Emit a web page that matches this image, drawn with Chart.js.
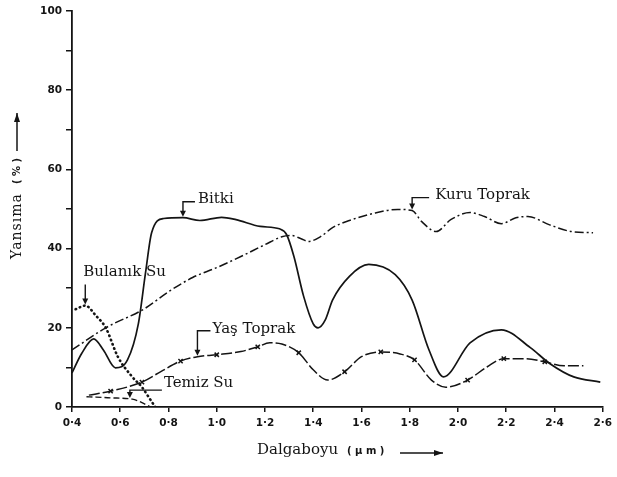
<!DOCTYPE html>
<html>
<head>
<meta charset="utf-8">
<script src="https://cdn.jsdelivr.net/npm/chart.js@4"></script>
<style>
  html, body { margin: 0; padding: 0; background: #fff; }
  #c { display: block; }
</style>
</head>
<body>
<canvas id="c" width="617" height="477"></canvas>
<script>
// Spectral reflectance curves (wavelength in µm, reflectance in %)
const bitkiWl  = [0.40, 0.44, 0.49, 0.53, 0.58, 0.63, 0.675, 0.705, 0.73, 0.78, 0.86, 0.93, 1.02, 1.08, 1.18, 1.26, 1.29, 1.32, 1.36, 1.40, 1.42, 1.45, 1.48, 1.55, 1.63, 1.74, 1.81, 1.88, 1.94, 2.05, 2.18, 2.30, 2.38, 2.48, 2.59];
const bitkiVal = [8.6, 13.5, 17.2, 14.4, 9.9, 11.9, 21, 34, 44, 47.6, 47.8, 47.1, 47.9, 47.3, 45.6, 45, 43.5, 38, 28, 21, 20, 22, 27, 33, 36, 33.4, 27, 14.4, 7.6, 16.2, 19.5, 15, 11, 7.6, 6.3];

const kuruWl  = [0.40, 0.54, 0.70, 0.80, 0.90, 1.00, 1.10, 1.20, 1.27, 1.31, 1.35, 1.38, 1.43, 1.48, 1.55, 1.65, 1.75, 1.81, 1.85, 1.91, 1.97, 2.05, 2.11, 2.18, 2.24, 2.29, 2.38, 2.47, 2.56];
const kuruVal = [14.4, 20, 24.8, 29.1, 32.7, 35.2, 38, 41, 43, 43.3, 42.5, 41.8, 43, 45.3, 47.1, 48.9, 49.9, 49.6, 46.8, 44.3, 47.3, 49.1, 48.1, 46.3, 47.8, 48.1, 46, 44.3, 44];

const yasWl  = [0.47, 0.56, 0.69, 0.77, 0.85, 0.92, 1.00, 1.10, 1.17, 1.22, 1.27, 1.34, 1.40, 1.46, 1.53, 1.60, 1.68, 1.76, 1.82, 1.89, 1.95, 2.04, 2.12, 2.19, 2.28, 2.36, 2.44, 2.52];
const yasVal = [3.0, 4.0, 6.3, 9.0, 11.6, 12.7, 13.2, 14.0, 15.2, 16.2, 15.9, 13.7, 9.4, 6.8, 8.9, 12.7, 13.9, 13.4, 11.9, 6.8, 5.0, 6.8, 10.1, 12.2, 12.2, 11.4, 10.4, 10.4];
const yasMarkWl = [0.56, 0.69, 0.85, 1.00, 1.17, 1.34, 1.53, 1.68, 1.82, 2.04, 2.19, 2.36];

const temizWl  = [0.46, 0.50, 0.56, 0.65, 0.69, 0.725];
const temizVal = [2.6, 2.5, 2.3, 2.0, 1.1, 0];

const bulanikWl  = [0.415, 0.455, 0.50, 0.54, 0.59, 0.65, 0.69, 0.72, 0.745];
const bulanikVal = [24.7, 25.6, 23, 20, 12.7, 7.6, 5.0, 2.3, 0];

const xTicks = [0.4, 0.6, 0.8, 1.0, 1.2, 1.4, 1.6, 1.8, 2.0, 2.2, 2.4, 2.6];
const yLabelled = [0, 20, 40, 60, 80, 100];

const pts = (xs, ys) => xs.map((x, i) => ({ x, y: ys[i] }));
const INK = '#141414';

const base = {
  fill: false, pointRadius: 0, borderColor: INK, borderWidth: 1.6,
  cubicInterpolationMode: 'monotone', borderCapStyle: 'butt'
};

// Curve name labels with bent leader arrows
const notes = [
  { text: 'Bitki',       at: [0.86, 47.8],  rise: 15, run: 12, dx: 3,  dy: -3 },
  { text: 'Kuru Toprak', at: [1.81, 49.6],  rise: 12, run: 17, dx: 6,  dy: -2 },
  { text: 'Yaş Toprak',  at: [0.92, 12.7],  rise: 25, run: 13, dx: 2,  dy: -2 },
  { text: 'Temiz Su',    at: [0.64, 2.0],   rise: 8,  run: 32, dx: 2,  dy: -7 },
  { text: 'Bulanık Su',  at: [0.455, 25.6], rise: 20, run: 0,  dx: -2, dy: -13 }
];

const notesPlugin = {
  id: 'curveNotes',
  afterDatasetsDraw(chart) {
    const { ctx, scales: { x, y } } = chart;
    ctx.save();
    ctx.strokeStyle = INK; ctx.fillStyle = INK; ctx.lineWidth = 1.4;
    ctx.font = '15px "DejaVu Serif"';
    ctx.textBaseline = 'middle'; ctx.textAlign = 'left';
    notes.forEach(n => {
      const px = x.getPixelForValue(n.at[0]);
      const py = y.getPixelForValue(n.at[1]) - 1;
      const cy = py - n.rise;
      ctx.beginPath();
      ctx.moveTo(px + n.run, cy);
      ctx.lineTo(px, cy);
      ctx.lineTo(px, py - 5);
      ctx.stroke();
      ctx.beginPath();
      ctx.moveTo(px - 3, py - 6);
      ctx.lineTo(px + 3, py - 6);
      ctx.lineTo(px, py);
      ctx.closePath();
      ctx.fill();
      ctx.fillText(n.text, px + n.run + n.dx, cy + n.dy);
    });
    ctx.restore();
  }
};

function arrow(ctx, x1, y1, x2, y2) {
  const a = Math.atan2(y2 - y1, x2 - x1);
  ctx.beginPath(); ctx.moveTo(x1, y1); ctx.lineTo(x2, y2); ctx.stroke();
  ctx.beginPath();
  ctx.moveTo(x2, y2);
  ctx.lineTo(x2 - 9 * Math.cos(a) + 3 * Math.sin(a), y2 - 9 * Math.sin(a) - 3 * Math.cos(a));
  ctx.lineTo(x2 - 9 * Math.cos(a) - 3 * Math.sin(a), y2 - 9 * Math.sin(a) + 3 * Math.cos(a));
  ctx.closePath(); ctx.fill();
}

const titlesPlugin = {
  id: 'axisTitles',
  afterDraw(chart) {
    const { ctx, chartArea: ca } = chart;
    ctx.save();
    ctx.strokeStyle = INK; ctx.fillStyle = INK; ctx.lineWidth = 1.5;
    ctx.textBaseline = 'middle'; ctx.textAlign = 'left';
    // x title
    const tx = ca.left + 185, ty = ca.bottom + 43;
    ctx.font = '15px "DejaVu Serif"';
    ctx.fillText('Dalgaboyu', tx, ty);
    ctx.font = 'bold 10px "DejaVu Sans"';
    ctx.fillText('( µ m )', tx + 90, ty + 1);
    arrow(ctx, tx + 143, ty + 3, tx + 186, ty + 3);
    // y title, reading bottom to top
    ctx.translate(17, 0);
    ctx.rotate(-Math.PI / 2);
    ctx.font = '14px "DejaVu Serif"';
    ctx.letterSpacing = '1px';
    ctx.fillText('Yansıma', -259, 0);
    ctx.letterSpacing = '0px';
    ctx.font = 'bold 10px "DejaVu Sans"';
    ctx.fillText('( % )', -184, 0);
    arrow(ctx, -151, 0, -113, 0);
    ctx.restore();
  }
};

const tickFont = { family: 'DejaVu Sans', weight: 'bold', size: 10.5 };

new Chart(document.getElementById('c'), {
  type: 'line',
  data: {
    datasets: [
      { ...base, label: 'Bitki', data: pts(bitkiWl, bitkiVal), borderWidth: 1.7 },
      { ...base, label: 'Kuru Toprak', data: pts(kuruWl, kuruVal), borderDash: [9, 3, 2, 3], borderWidth: 1.5 },
      { ...base, label: 'Yaş Toprak', data: pts(yasWl, yasVal), borderDash: [11, 3], borderWidth: 1.5,
        pointStyle: 'crossRot', pointBorderColor: INK, pointBorderWidth: 1.5,
        pointRadius: c => (c.raw && yasMarkWl.includes(c.raw.x)) ? 3 : 0 },
      { ...base, label: 'Temiz Su', data: pts(temizWl, temizVal), borderDash: [6, 3], borderWidth: 1.4 },
      { ...base, label: 'Bulanık Su', data: pts(bulanikWl, bulanikVal), borderDash: [0.5, 4], borderWidth: 2.6, borderCapStyle: 'round' }
    ]
  },
  options: {
    responsive: false, animation: false, devicePixelRatio: 1,
    layout: { padding: { top: 11, right: 11, left: 0, bottom: 0 } },
    plugins: { legend: { display: false }, tooltip: { enabled: false } },
    scales: {
      x: {
        type: 'linear', min: 0.4, max: 2.6,
        afterFit: s => { s.height = 70; },
        afterBuildTicks: s => { s.ticks = xTicks.map(v => ({ value: v })); },
        ticks: { callback: v => v.toFixed(1).replace('.', '·'), color: INK, font: tickFont, padding: 5, maxRotation: 0, autoSkip: false },
        grid: { drawOnChartArea: false, drawTicks: true, tickLength: 5, color: INK, lineWidth: 1.5 },
        border: { display: true, color: INK, width: 1.8 }
      },
      y: {
        min: 0, max: 100,
        afterFit: s => { s.width = 72; },
        ticks: { stepSize: 10, callback: v => yLabelled.includes(v) ? String(v) : '', color: INK, font: tickFont, padding: 4 },
        grid: { drawOnChartArea: false, drawTicks: true, tickLength: 6, color: INK, lineWidth: 1.5 },
        border: { display: true, color: INK, width: 1.8 }
      }
    }
  },
  plugins: [notesPlugin, titlesPlugin]
});
</script>
</body>
</html>
